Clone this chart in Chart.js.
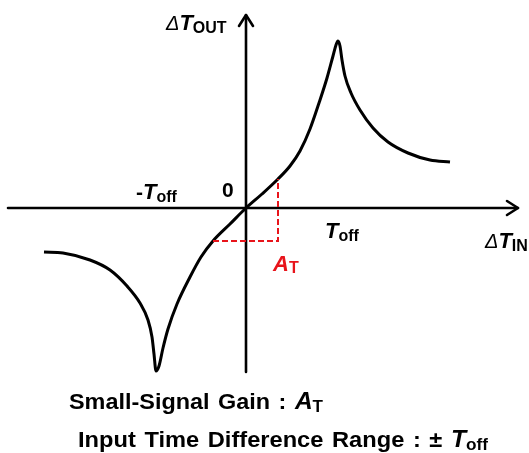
<!DOCTYPE html>
<html>
<head>
<meta charset="utf-8">
<script src="https://cdn.jsdelivr.net/npm/chart.js@4.4.1/dist/chart.umd.min.js"></script>
<style>
  html, body { margin: 0; padding: 0; background: #fff; }
  #wrap { width: 529px; height: 453px; position: relative; }
</style>
</head>
<body>
<div id="wrap"><canvas id="chart"></canvas></div>
<script>
// Transfer curve: output time difference vs input time difference (arbitrary units, origin at 0)
const inputDiff = [-202, -183, -156, -136, -119, -106, -98, -94, -92, -90, -87, -83, -78, -69, -56, -45, -33, -16, 0,
  16, 32, 44, 54, 64, 73, 81, 87, 90, 92, 94, 96, 99, 105, 114, 127, 142, 162, 184, 204];
const outputDiff = [-44, -45, -52, -62, -78, -95, -112, -129, -146, -163, -158, -140, -121, -96, -69, -49, -33, -16, 0,
  14, 29, 42, 57, 79, 105, 130, 152, 163, 167, 162, 148, 132, 115, 98, 80, 66, 55, 48, 46];

// Small-signal gain triangle (run / rise)
const gainX = [-33, 32, 32];
const gainY = [-33, -33, 29];

// Visible window of both axes
const xRange = [-246, 283];
const yRange = [-245, 208];

const curve = inputDiff.map((x, i) => ({ x, y: outputDiff[i] }));
const gainPath = gainX.map((x, i) => ({ x, y: gainY[i] }));

const FAMILY = '"Liberation Sans", Arial, sans-serif';
const BOLD = 'bold 21px ' + FAMILY;
const BOLD_IT = 'italic bold 22px ' + FAMILY;
const SUB = 'bold 16px ' + FAMILY;
const DELTA = 'italic 20px ' + FAMILY;
const CAP = 'bold 22px ' + FAMILY;
const CAP_IT = 'italic bold 23px ' + FAMILY;
const CAP_SUB = 'bold 16px ' + FAMILY;
const RED = '#e8141b';

// draws a run of [text, font, yOffset, color] pieces starting at (x, y)
function richText(ctx, x, y, parts) {
  let cx = x;
  for (const [text, font, dy, color] of parts) {
    ctx.font = font;
    ctx.fillStyle = color || '#000';
    ctx.fillText(text, cx, y + (dy || 0));
    cx += ctx.measureText(text).width;
  }
  return cx - x;
}

function partsWidth(ctx, parts) {
  return parts.reduce((w, [text, font]) => {
    ctx.font = font;
    return w + ctx.measureText(text).width;
  }, 0);
}

// caption line: word groups with a fixed gap, stretched horizontally to fill x0..x1
function captionLine(ctx, x0, x1, y, groups, gap) {
  const widths = groups.map(parts => partsWidth(ctx, parts));
  const natural = widths.reduce((a, b) => a + b, 0) + gap * (groups.length - 1);
  ctx.save();
  ctx.translate(x0, y);
  ctx.scale((x1 - x0) / natural, 1);
  let cx = 0;
  groups.forEach((parts, i) => {
    richText(ctx, cx, 0, parts);
    cx += widths[i] + gap;
  });
  ctx.restore();
}

const axesPlugin = {
  id: 'crossAxes',
  beforeDatasetsDraw(chart) {
    const { ctx, scales: { x, y } } = chart;
    const ox = x.getPixelForValue(0);
    const oy = y.getPixelForValue(0);
    ctx.save();
    ctx.strokeStyle = '#000';
    ctx.lineWidth = 2.6;
    ctx.lineCap = 'round';
    ctx.lineJoin = 'round';
    const left = 8, right = 518, top = 15, bottom = 372;
    ctx.beginPath();
    ctx.moveTo(left, oy); ctx.lineTo(right, oy);
    ctx.moveTo(ox, bottom); ctx.lineTo(ox, top);
    ctx.stroke();
    // arrow heads
    ctx.beginPath();
    ctx.moveTo(right - 11, oy - 7); ctx.lineTo(right, oy); ctx.lineTo(right - 11, oy + 7);
    ctx.moveTo(ox - 7, top + 11); ctx.lineTo(ox, top); ctx.lineTo(ox + 7, top + 11);
    ctx.stroke();
    ctx.restore();
  },
  afterDatasetsDraw(chart) {
    const { ctx, scales: { x, y } } = chart;
    const ox = x.getPixelForValue(0);
    const oy = y.getPixelForValue(0);
    ctx.save();
    ctx.textBaseline = 'alphabetic';
    richText(ctx, ox - 80, 30, [['\u0394', DELTA], ['T', BOLD_IT], ['OUT', SUB, 3]]);
    richText(ctx, ox + 239, oy + 40, [['\u0394', DELTA], ['T', BOLD_IT], ['IN', SUB, 3]]);
    richText(ctx, ox - 110, oy - 9, [['-', BOLD], ['T', BOLD_IT], ['off', SUB, 3]]);
    richText(ctx, ox - 24, oy - 11, [['0', BOLD]]);
    richText(ctx, ox + 79, oy + 30, [['T', BOLD_IT], ['off', SUB, 3]]);
    richText(ctx, ox + 27, oy + 63, [['A', BOLD_IT, 0, RED], ['T', SUB, 2, RED]]);

    captionLine(ctx, 69, 323, 409, [
      [['Small-Signal', CAP]], [['Gain', CAP]], [[':', CAP]], [['A', CAP_IT], ['T', CAP_SUB, 3]]
    ], 8);
    captionLine(ctx, 78, 488, 447, [
      [['Input', CAP]], [['Time', CAP]], [['Difference', CAP]], [['Range', CAP]],
      [[':', CAP]], [['\u00b1', CAP]], [['T', CAP_IT], ['off', CAP_SUB, 3]]
    ], 8);
    ctx.restore();
  }
};

new Chart(document.getElementById('chart'), {
  type: 'scatter',
  data: {
    datasets: [
      {
        data: curve,
        showLine: true,
        borderColor: '#000',
        borderWidth: 3,
        pointRadius: 0,
        cubicInterpolationMode: 'monotone',
        order: 2
      },
      {
        data: gainPath,
        showLine: true,
        borderColor: RED,
        borderWidth: 2,
        borderDash: [6, 3],
        pointRadius: 0,
        tension: 0,
        order: 1
      }
    ]
  },
  options: {
    responsive: true,
    maintainAspectRatio: false,
    animation: false,
    layout: { padding: 0 },
    plugins: { legend: { display: false }, tooltip: { enabled: false } },
    scales: {
      x: { type: 'linear', display: false, min: xRange[0], max: xRange[1] },
      y: { type: 'linear', display: false, min: yRange[0], max: yRange[1] }
    }
  },
  plugins: [axesPlugin]
});
</script>
</body>
</html>
